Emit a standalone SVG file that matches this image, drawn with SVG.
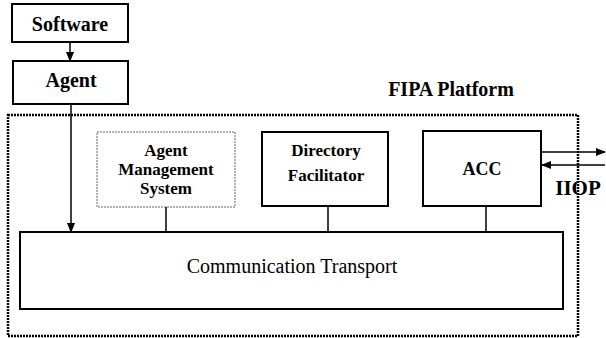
<svg xmlns="http://www.w3.org/2000/svg" width="606" height="338" viewBox="0 0 606 338">
<style>
.box{fill:#fff;stroke:#000;stroke-width:2}
.ams{fill:#fff;stroke:#666;stroke-width:1;stroke-dasharray:2,1}
.outer{fill:none;stroke:#000;stroke-width:2.5;stroke-dasharray:2,1}
.lbl{font-family:"Liberation Serif","Times New Roman",serif;font-weight:bold;fill:#000;text-anchor:middle}
.reg{font-family:"Liberation Serif","Times New Roman",serif;fill:#000;text-anchor:middle}
.ln{stroke:#000;stroke-width:1.5;fill:none}
</style>
<defs>
<marker id="ah" markerWidth="10" markerHeight="10" refX="9" refY="5" orient="auto" markerUnits="userSpaceOnUse">
<path d="M0,1 L10,5 L0,9 Z" fill="#000"/>
</marker>
</defs>
<rect id="platform" class="outer" x="8" y="115" width="570" height="221"/>
<text class="lbl" x="451" y="96" font-size="20">FIPA Platform</text>
<g id="software">
<rect class="box" x="12" y="4" width="116" height="38"/>
<text class="lbl" x="70" y="31" font-size="20">Software</text>
</g>
<g id="agent">
<rect class="box" x="13" y="61" width="115" height="43"/>
<text class="lbl" x="71" y="87" font-size="20">Agent</text>
</g>
<g id="ams">
<rect class="ams" x="97" y="132" width="138" height="75"/>
<text class="lbl" x="166" y="156" font-size="17">Agent</text>
<text class="lbl" x="166" y="175" font-size="17">Management</text>
<text class="lbl" x="166" y="194" font-size="17">System</text>
</g>
<g id="df">
<rect class="box" x="262" y="132" width="126" height="74"/>
<text class="lbl" x="326" y="156" font-size="17">Directory</text>
<text class="lbl" x="326" y="181" font-size="17">Facilitator</text>
</g>
<g id="acc">
<rect class="box" x="423" y="131" width="118" height="75"/>
<text class="lbl" x="482" y="175" font-size="18">ACC</text>
</g>
<g id="transport">
<rect class="box" x="20" y="232" width="543" height="77"/>
<text class="reg" x="292" y="273" font-size="20">Communication Transport</text>
</g>
<text class="lbl" x="578" y="195" font-size="21">IIOP</text>
<g id="connectors">
<line class="ln" x1="70" y1="42" x2="70" y2="61" marker-end="url(#ah)"/>
<line class="ln" x1="71" y1="104" x2="71" y2="232" marker-end="url(#ah)"/>
<line class="ln" x1="166" y1="207" x2="166" y2="232"/>
<line class="ln" x1="328" y1="206" x2="328" y2="232"/>
<line class="ln" x1="486" y1="206" x2="486" y2="232"/>
<line class="ln" x1="541" y1="152" x2="605" y2="152" marker-end="url(#ah)"/>
<line class="ln" x1="605" y1="165" x2="542" y2="165" marker-end="url(#ah)"/>
</g>
</svg>
